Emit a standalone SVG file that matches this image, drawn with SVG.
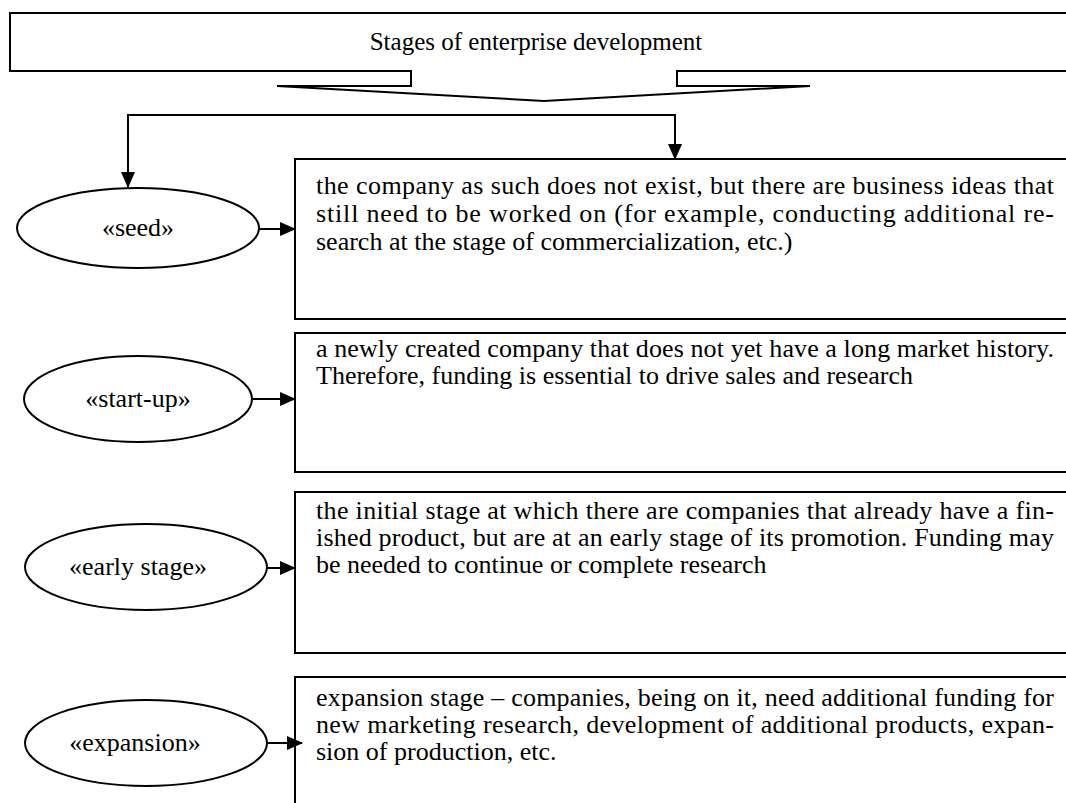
<svg xmlns="http://www.w3.org/2000/svg" width="1066" height="803" viewBox="0 0 1066 803">
<style>
.ln{fill:none;stroke:#000;stroke-width:2}
.bx{fill:#fff;stroke:#000;stroke-width:2}
.t{font-family:"Liberation Serif","Times New Roman",serif;font-size:26px;fill:#000}
.h{font-size:25px}
.c{text-anchor:middle}
</style>
<defs>
<marker id="ah" markerWidth="16" markerHeight="14" refX="15" refY="7" orient="auto" markerUnits="userSpaceOnUse">
<path d="M0,0 L16,7 L0,14 Z" fill="#000"/>
</marker>
</defs>
<g id="title">
<path class="bx" d="M1070,13 L10,13 L10,71 L411,71 L411,86 L277,86 L544,101 L810,86 L677,86 L677,71 L1070,71"/>
<text class="t h c" x="536" y="50">Stages of enterprise development</text>
</g>
<g id="box1">
<rect class="bx" x="295" y="159" width="780" height="160"/>
<text class="t" x="316" y="194" textLength="738" lengthAdjust="spacing">the company as such does not exist, but there are business ideas that</text>
<text class="t" x="316" y="222" textLength="738" lengthAdjust="spacing">still need to be worked on (for example, conducting additional re-</text>
<text class="t" x="316" y="250">search at the stage of commercialization, etc.)</text>
</g>
<g id="box2">
<rect class="bx" x="295" y="333" width="780" height="139"/>
<text class="t" x="316" y="357" textLength="738" lengthAdjust="spacing">a newly created company that does not yet have a long market history.</text>
<text class="t" x="316" y="384">Therefore, funding is essential to drive sales and research</text>
</g>
<g id="box3">
<rect class="bx" x="295" y="492" width="780" height="161"/>
<text class="t" x="316" y="519" textLength="738" lengthAdjust="spacing">the initial stage at which there are companies that already have a fin-</text>
<text class="t" x="316" y="546" textLength="738" lengthAdjust="spacing">ished product, but are at an early stage of its promotion. Funding may</text>
<text class="t" x="316" y="573">be needed to continue or complete research</text>
</g>
<g id="box4">
<path class="ln" d="M295,810 L295,677 L1070,677"/>
<text class="t" x="316" y="706" textLength="738" lengthAdjust="spacing">expansion stage – companies, being on it, need additional funding for</text>
<text class="t" x="316" y="733" textLength="738" lengthAdjust="spacing">new marketing research, development of additional products, expan-</text>
<text class="t" x="316" y="760">sion of production, etc.</text>
</g>
<g id="seed">
<ellipse class="bx" cx="138" cy="228" rx="121" ry="40"/>
<text class="t c" x="138" y="236">«seed»</text>
</g>
<g id="startup">
<ellipse class="bx" cx="138" cy="399" rx="114" ry="43"/>
<text class="t c" x="138" y="407">«start-up»</text>
</g>
<g id="early">
<ellipse class="bx" cx="146" cy="567" rx="121" ry="43"/>
<text class="t c" x="138" y="575">«early stage»</text>
</g>
<g id="expansion">
<ellipse class="bx" cx="146" cy="743" rx="121" ry="43"/>
<text class="t c" x="135" y="751">«expansion»</text>
</g>
<g id="connectors">
<path class="ln" d="M675,115 L128,115"/>
<path class="ln" d="M128,114 L128,187" marker-end="url(#ah)"/>
<path class="ln" d="M675,114 L675,159" marker-end="url(#ah)"/>
<path class="ln" d="M259,229 L295,229" marker-end="url(#ah)"/>
<path class="ln" d="M252,399 L295,399" marker-end="url(#ah)"/>
<path class="ln" d="M267,568 L295,568" marker-end="url(#ah)"/>
<path class="ln" d="M267,743 L302,743" marker-end="url(#ah)"/>
</g>
</svg>
